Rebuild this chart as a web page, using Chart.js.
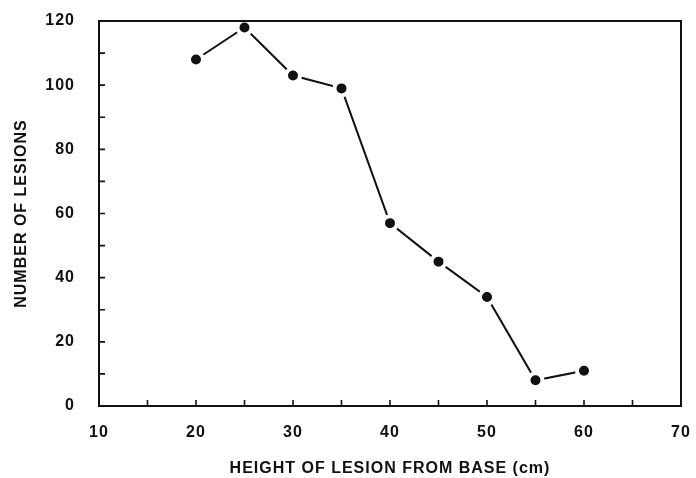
<!DOCTYPE html>
<html>
<head>
<meta charset="utf-8">
<script src="https://cdn.jsdelivr.net/npm/chart.js@4"></script>
<style>
  html, body { margin: 0; padding: 0; background: #fff; }
  #wrap { width: 696px; height: 478px; }
</style>
</head>
<body>
<div id="wrap"><canvas id="lesionChart"></canvas></div>
<script>
// values
const heights = [20, 25, 30, 35, 40, 45, 50, 55, 60];
const lesions = [108, 118, 103, 99, 57, 45, 34, 8, 11];
const xTickStep = 5;   // small inward ticks on x
const yTickStep = 10;  // small inward ticks on y

// box round the plot + inward tick marks
const frameAndTicks = {
  id: 'frameAndTicks',
  beforeDraw(chart) {
    chart.ctx.letterSpacing = '1px';
  },
  afterDatasetsDraw(chart) {
    const ctx = chart.ctx;
    const a = chart.chartArea;
    const xs = chart.scales.x, ys = chart.scales.y;
    ctx.save();
    ctx.strokeStyle = '#111';
    ctx.lineWidth = 2;
    ctx.strokeRect(a.left, a.top, a.right - a.left, a.bottom - a.top);
    ctx.lineWidth = 1.6;
    ctx.beginPath();
    for (let v = xs.min + xTickStep; v < xs.max; v += xTickStep) {
      const px = xs.getPixelForValue(v);
      ctx.moveTo(px, a.bottom);
      ctx.lineTo(px, a.bottom - 6);
    }
    for (let v = ys.min + yTickStep; v < ys.max; v += yTickStep) {
      const py = ys.getPixelForValue(v);
      ctx.moveTo(a.left, py);
      ctx.lineTo(a.left + 6, py);
    }
    ctx.stroke();
    ctx.restore();
  }
};

const tickFont = { family: 'Liberation Sans', size: 16, weight: 'bold' };
const titleFont = { family: 'Liberation Sans', size: 16, weight: 'bold' };

const ctx = document.getElementById('lesionChart').getContext('2d');
new Chart(ctx, {
  type: 'line',
  data: {
    datasets: [{
      label: 'Lesions',
      data: heights.map((h, i) => ({ x: h, y: lesions[i] })),
      borderColor: '#111',
      borderWidth: 2,
      backgroundColor: '#111',
      pointRadius: 7,
      pointBorderWidth: 4,
      pointBorderColor: '#fff',
      pointBackgroundColor: '#111',
      tension: 0
    }]
  },
  options: {
    responsive: true,
    maintainAspectRatio: false,
    animation: false,
    layout: { padding: { top: 21, right: 15, left: 0, bottom: 0 } },
    plugins: {
      legend: { display: false },
      tooltip: { enabled: false }
    },
    scales: {
      x: {
        type: 'linear',
        min: 10, max: 70,
        grid: { display: false },
        border: { display: false },
        ticks: {
          stepSize: 10,
          padding: 9,
          color: '#111',
          font: tickFont
        },
        title: {
          display: true,
          text: 'HEIGHT OF LESION FROM BASE (cm)',
          color: '#111',
          padding: { top: 0, bottom: 0 },
          font: titleFont
        },
        afterFit(scale) {
          scale.height = 72;
          scale.paddingLeft = 0;
          scale.paddingRight = 0;
        }
      },
      y: {
        min: 0, max: 120,
        grid: { display: false },
        border: { display: false },
        ticks: {
          stepSize: 20,
          padding: 16,
          color: '#111',
          font: tickFont
        },
        title: {
          display: true,
          text: 'NUMBER OF LESIONS',
          color: '#111',
          padding: { top: 12, bottom: 0 },
          font: titleFont
        },
        afterFit(scale) {
          scale.width = 99;
          scale.paddingTop = 0;
          scale.paddingBottom = 0;
        }
      }
    }
  },
  plugins: [frameAndTicks]
});
</script>
</body>
</html>
